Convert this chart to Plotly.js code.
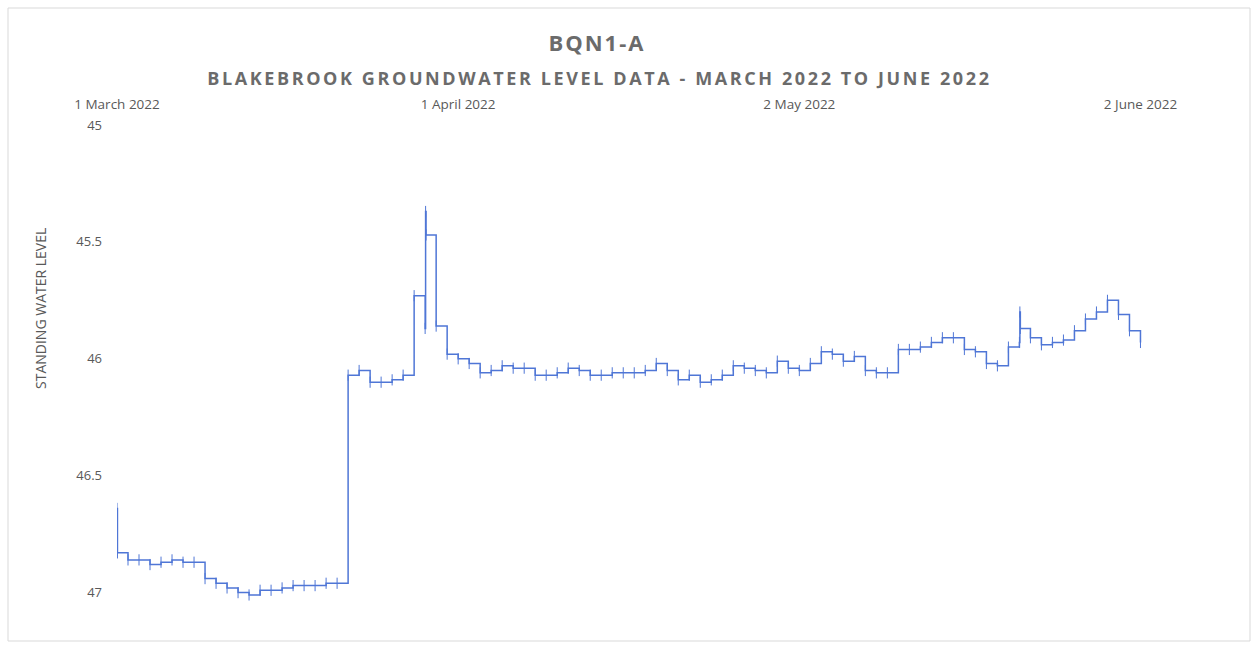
<!DOCTYPE html>
<html>
<head>
<meta charset="utf-8">
<script src="https://cdn.plot.ly/plotly-3.0.1.min.js"></script>
<style>html,body{margin:0;padding:0;background:#fff;}#chart{width:1258px;height:648px;}</style>
</head>
<body>
<div id="chart"></div>
<script>
// Reading times (hourly offsets used where a day holds a short spike)
const readingTimes = [
  '2022-03-01 00:00','2022-03-01 01:00','2022-03-02','2022-03-03','2022-03-04','2022-03-05','2022-03-06','2022-03-07','2022-03-08',
  '2022-03-09','2022-03-10','2022-03-11','2022-03-12','2022-03-13','2022-03-14','2022-03-15','2022-03-16','2022-03-17',
  '2022-03-18','2022-03-19','2022-03-20','2022-03-21','2022-03-22','2022-03-23','2022-03-24','2022-03-25','2022-03-26',
  '2022-03-27','2022-03-28','2022-03-29 00:00','2022-03-29 01:00','2022-03-29 02:00','2022-03-30','2022-03-31',
  '2022-04-01','2022-04-02','2022-04-03','2022-04-04','2022-04-05','2022-04-06','2022-04-07','2022-04-08','2022-04-09',
  '2022-04-10','2022-04-11','2022-04-12','2022-04-13','2022-04-14','2022-04-15','2022-04-16','2022-04-17','2022-04-18',
  '2022-04-19','2022-04-20','2022-04-21','2022-04-22','2022-04-23','2022-04-24','2022-04-25','2022-04-26','2022-04-27',
  '2022-04-28','2022-04-29','2022-04-30','2022-05-01','2022-05-02','2022-05-03','2022-05-04','2022-05-05','2022-05-06',
  '2022-05-07','2022-05-08','2022-05-09','2022-05-10','2022-05-11','2022-05-12','2022-05-13','2022-05-14','2022-05-15',
  '2022-05-16','2022-05-17','2022-05-18','2022-05-19','2022-05-20','2022-05-21','2022-05-22 00:00','2022-05-22 01:00',
  '2022-05-22 02:00','2022-05-23','2022-05-24','2022-05-25','2022-05-26','2022-05-27','2022-05-28','2022-05-29',
  '2022-05-30','2022-05-31','2022-06-01','2022-06-02'
];
const waterLevel = [
  46.64,46.83,46.86,46.86,46.88,46.87,46.86,46.87,46.87,
  46.94,46.96,46.98,47.00,47.01,46.99,46.99,46.98,46.97,
  46.97,46.97,46.96,46.96,46.07,46.05,46.10,46.10,46.09,
  46.07,45.73,45.87,45.37,45.47,45.86,45.98,
  46.00,46.02,46.06,46.05,46.03,46.04,46.04,46.07,46.07,
  46.06,46.04,46.05,46.07,46.07,46.06,46.06,46.06,46.05,
  46.02,46.05,46.09,46.07,46.10,46.09,46.07,46.03,46.04,
  46.05,46.06,46.01,46.04,46.05,46.02,45.97,45.98,46.01,
  45.99,46.05,46.06,46.06,45.96,45.96,45.95,45.93,45.91,
  45.91,45.96,45.97,46.02,46.03,45.95,45.93,45.80,
  45.87,45.91,45.94,45.93,45.92,45.88,45.83,45.80,
  45.75,45.81,45.88,45.93
];
const xTickDates = ['2022-03-01','2022-04-01','2022-05-02','2022-06-02'];
const xTickLabels = ['1 March 2022','1 April 2022','2 May 2022','2 June 2022'];
const yTickValues = [45,45.5,46,46.5,47];

const gray = '#595959';
const titleGray = '#6b6b6b';
const trace = {
  x: readingTimes,
  y: waterLevel,
  type: 'scatter',
  mode: 'lines+markers',
  line: {shape: 'hv', color: '#4f76d6', width: 1.5},
  marker: {symbol: 'line-ns', size: 8, color: '#4f76d6', line: {width: 1, color: '#4f76d6'}},
  hoverinfo: 'x+y'
};
const layout = {
  width: 1258, height: 648,
  margin: {l: 117, r: 68, t: 125, b: 32},
  paper_bgcolor: '#ffffff', plot_bgcolor: '#ffffff',
  showlegend: false,
  font: {family: 'Open Sans, sans-serif', color: gray},
  title: {
    text: '<b>BQN1-A</b>',
    font: {family: 'Open Sans, sans-serif', size: 22, color: titleGray},
    x: 0.4745, xanchor: 'center', y: 1 - 43/648, yanchor: 'middle'
  },
  xaxis: {
    type: 'date', side: 'top',
    range: ['2022-03-01', '2022-06-06 12:00'],
    tickvals: xTickDates, ticktext: xTickLabels,
    tickfont: {family: 'Open Sans, sans-serif', size: 13.5, color: gray},
    showgrid: false, zeroline: false, showline: false, ticks: '',
    ticklabelstandoff: 12
  },
  yaxis: {
    range: [47.1, 45],
    tickvals: yTickValues,
    tickfont: {family: 'Open Sans, sans-serif', size: 13, color: gray},
    showgrid: false, zeroline: false, showline: false, ticks: '',
    ticklabelstandoff: 14
  },
  annotations: [
    {
      text: '<b>BLAKEBROOK GROUNDWATER LEVEL DATA - MARCH 2022 TO JUNE 2022</b>',
      xref: 'paper', yref: 'paper', x: 0.45, y: (616-78)/491,
      xanchor: 'center', yanchor: 'middle', showarrow: false,
      font: {family: 'Open Sans, sans-serif', size: 18, color: titleGray}
    },
    {
      text: 'STANDING WATER LEVEL',
      xref: 'paper', yref: 'paper', x: (40-117)/1073, y: (616-309)/491,
      xanchor: 'center', yanchor: 'middle', showarrow: false, textangle: -90,
      font: {family: 'Open Sans, sans-serif', size: 14, color: gray}
    }
  ],
  shapes: [
    {type: 'rect', xref: 'paper', yref: 'paper',
     x0: (8-117)/1073, x1: (1250-117)/1073, y0: (616-641)/491, y1: (616-8)/491,
     line: {color: '#d9d9d9', width: 1}, fillcolor: 'rgba(0,0,0,0)', layer: 'below'}
  ]
};
Plotly.newPlot('chart', [trace], layout, {displayModeBar: false, responsive: false}).then(function (gd) {
  // Expanded character spacing as in the original chart titles
  const t = gd.querySelector('.gtitle');
  if (t) t.style.letterSpacing = '2px';
  const ann = gd.querySelectorAll('.annotation-text');
  if (ann[0]) ann[0].style.letterSpacing = '2.6px';
});
</script>
</body>
</html>
